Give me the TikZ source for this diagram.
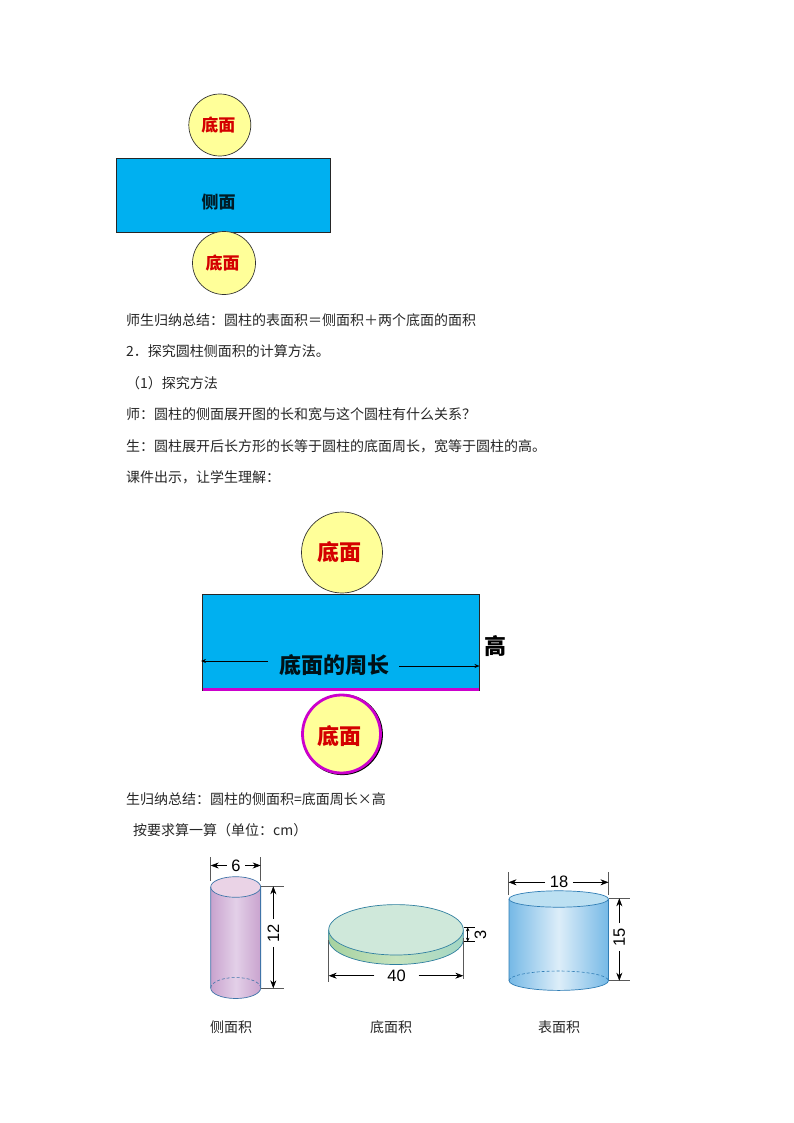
\documentclass[tikz,border=0pt]{standalone}
\usepackage{fontspec}
\usetikzlibrary{arrows.meta}
\setmainfont{Noto Sans CJK SC}
\newfontfamily\latinsans{Liberation Sans}
\definecolor{skyrect}{HTML}{00B0F0}
\definecolor{paleyellow}{HTML}{FFFF99}
\definecolor{redtext}{HTML}{D40000}
\definecolor{magline}{HTML}{CC00CC}
\definecolor{cylline}{HTML}{3F74A8}
\definecolor{cylblue}{HTML}{76B9E6}
\definecolor{cylbluetop}{HTML}{BCE0F2}
\definecolor{cylblueline}{HTML}{2F7DB5}
\definecolor{purpleside}{HTML}{C9A3CE}
\definecolor{purplemid}{HTML}{E3D0E8}
\definecolor{purpletop}{HTML}{EAD3E6}
\definecolor{greenA}{HTML}{A6D2A0}
\definecolor{greenB}{HTML}{C6E3BE}
\definecolor{greenC}{HTML}{A2D6C4}
\definecolor{greentop}{HTML}{CFE8DA}
\definecolor{greenline}{HTML}{2F7F9F}
\tikzset{
  x=1pt,y=-1pt,
  bookline/.style={anchor=west,inner sep=0pt,font=\fontsize{14}{14}\selectfont,text=black!85},
  caption/.style={inner sep=0pt,font=\fontsize{14}{14}\selectfont,text=black!85},
  netrect/.style={draw=black!85,fill=skyrect,line width=0.7pt},
  basedisc/.style={circle,draw=black!80,fill=paleyellow,line width=0.7pt,inner sep=0pt},
  smalltext/.style={font=\fontsize{17}{17}\selectfont\bfseries,inner sep=0pt},
  bigtext/.style={font=\fontsize{22}{22}\selectfont\bfseries,inner sep=0pt},
  dimline/.style={draw=black,line width=0.6pt,-{Stealth[length=8pt,width=6pt]}},
  smallarrow/.style={draw=black,line width=0.6pt,-{Stealth[length=5pt,width=4pt]}},
  extline/.style={draw=black!65,line width=0.6pt},
  dimtext/.style={font=\fontsize{16.5}{17}\latinsans\selectfont,inner sep=4.5pt},
  edge/.style={draw=cylline,line width=0.7pt},
  hidden/.style={draw=cylline,line width=0.6pt,densely dashed},
}
\begin{document}
\begin{tikzpicture}
\useasboundingbox[fill=white] (0,0) rectangle (794,1123);

% first net
\draw[netrect] (116.3,158.3) rectangle (330.3,232.3);
\node[basedisc,minimum size=62pt] (topA) at (219.8,125) {};
\node[basedisc,minimum size=63pt] (botA) at (224,263) {};
\node[smalltext,text=redtext] at (218.3,125) {底面};
\node[smalltext,text=redtext] at (222.5,263) {底面};
\node[smalltext,text=black!85!skyrect] (sideA) at (218.5,202.5) {侧面};

% text lines
\node[bookline] (l1) at (126,320.5) {师生归纳总结：圆柱的表面积＝侧面积＋两个底面的面积};
\node[bookline] (l2) at (126,351.5) {2．探究圆柱侧面积的计算方法。};
\node[bookline] (l3) at (126,383) {（1）探究方法};
\node[bookline] (l4) at (126,414.5) {师：圆柱的侧面展开图的长和宽与这个圆柱有什么关系？};
\node[bookline] (l5) at (126,446) {生：圆柱展开后长方形的长等于圆柱的底面周长，宽等于圆柱的高。};
\node[bookline] (l6) at (126,477) {课件出示，让学生理解：};

% second net
\draw[netrect] (202.7,594.3) rectangle (479.3,690);
\draw[magline,line width=2.4pt] (202.7,689.5) -- (479.3,689.5);
\node[basedisc,minimum size=81pt] (topB) at (342,552.5) {};
\fill[black] (342.4,734.6) circle[radius=40.5];
\node[circle,draw=magline,fill=paleyellow,line width=2.8pt,inner sep=0pt,minimum size=78pt] (botB) at (341.5,734) {};
\node[bigtext,text=redtext] at (339.5,552) {底面};
\node[bigtext,text=redtext] at (339.5,736) {底面};
\node[bigtext,text=black!90!skyrect] (perim) at (334.5,665.5) {底面的周长};
\node[bigtext,text=black] (gao) at (495,646) {高};
\coordinate (pL0) at (268,661);
\coordinate (pL1) at (201,661);
\coordinate (pR0) at (399,666);
\coordinate (pR1) at (479.5,666);
\draw[smallarrow] (pL0) -- (pL1);
\draw[smallarrow] (pR0) -- (pR1);

% more text
\node[bookline] (l7) at (126,799) {生归纳总结：圆柱的侧面积=底面周长×高};
\node[bookline] (l8) at (133,830) {按要求算一算（单位：cm）};

% purple cylinder
\path[left color=purpleside,right color=purpleside,middle color=purplemid]
  (210.7,887) -- (210.7,988) arc[start angle=180,end angle=0,x radius=25,y radius=10.5] -- (260.7,887) arc[start angle=0,end angle=180,x radius=25,y radius=10.5] -- cycle;
\fill[purpletop] (235.7,887) ellipse[x radius=25,y radius=10.3];
\draw[edge] (235.7,887) ellipse[x radius=25,y radius=10.3];
\draw[edge] (210.7,887) -- (210.7,988) arc[start angle=180,end angle=0,x radius=25,y radius=10.5] -- (260.7,887);
\draw[edge] (260.7,887) -- (260.7,988);
\draw[hidden] (210.7,988) arc[start angle=180,end angle=360,x radius=25,y radius=10.5];
\coordinate (a1) at (210.7,857); \coordinate (a1b) at (210.7,881);
\coordinate (a2) at (260.7,857); \coordinate (a2b) at (260.7,881);
\draw[extline] (a1) -- (a1b);
\draw[extline] (a2) -- (a2b);
\node[dimtext] (d6) at (236,865.5) {6};
\draw[dimline] (d6) -- (a1 |- d6);
\draw[dimline] (d6) -- (a2 |- d6);
\coordinate (a3) at (261,886.3); \coordinate (a3b) at (284,886.3);
\coordinate (a4) at (261,988.3); \coordinate (a4b) at (284,988.3);
\draw[extline] (a3) -- (a3b);
\draw[extline] (a4) -- (a4b);
\node[dimtext,rotate=90] (d12) at (273.3,933) {12};
\draw[dimline] (d12) -- (d12 |- a3);
\draw[dimline] (d12) -- (d12 |- a4);
\node[caption] (capA) at (231,1027) {侧面积};

% green disc
\path[left color=greenA,right color=greenC,middle color=greenB]
  (328.7,930) -- (328.7,939.5) arc[start angle=180,end angle=0,x radius=67.3,y radius=25] -- (463.3,930) arc[start angle=0,end angle=180,x radius=67.3,y radius=25] -- cycle;
\draw[edge,draw=greenline] (328.7,930) -- (328.7,939.5) arc[start angle=180,end angle=0,x radius=67.3,y radius=25] -- (463.3,930);
\fill[greentop] (396,929.8) ellipse[x radius=67.3,y radius=25.2];
\draw[edge,draw=greenline] (396,929.8) ellipse[x radius=67.3,y radius=25.2];
\coordinate (g1) at (328.7,940); \coordinate (g1b) at (328.7,982);
\coordinate (g2) at (463.3,938); \coordinate (g2b) at (463.3,979);
\draw[extline] (g1) -- (g1b);
\draw[extline] (g2) -- (g2b);
\node[dimtext,inner sep=0pt,minimum width=44pt] (d40) at (396.5,975.7) {40};
\draw[dimline] (d40) -- (g1b |- d40);
\draw[dimline] (d40) -- (g2b |- d40);
\coordinate (g3) at (463.5,927.3); \coordinate (g3b) at (475,927.3);
\coordinate (g4) at (463.5,941.7); \coordinate (g4b) at (475,941.7);
\draw[extline,black] (g3) -- (g3b);
\draw[extline,black] (g4) -- (g4b);
\coordinate (g5) at (467.7,934.5);
\draw[smallarrow,-{Stealth[length=4pt,width=3.5pt]}] (g5) -- (g5 |- g3);
\draw[smallarrow,-{Stealth[length=4pt,width=3.5pt]}] (g5) -- (g5 |- g4);
\node[dimtext,rotate=90] (d3) at (480.5,935) {3};
\node[caption] (capB) at (391,1027) {底面积};

% blue cylinder
\path[left color=cylblue,right color=cylblue,middle color=cylblue!25!white]
  (509,899) -- (509,980.7) arc[start angle=180,end angle=0,x radius=49.7,y radius=9.7] -- (608.4,899) arc[start angle=0,end angle=180,x radius=49.7,y radius=8.2] -- cycle;
\fill[cylbluetop] (558.7,899) ellipse[x radius=49.7,y radius=8.2];
\draw[edge,draw=cylblueline] (558.7,899) ellipse[x radius=49.7,y radius=8.2];
\draw[edge,draw=cylblueline] (509,899) -- (509,980.7) arc[start angle=180,end angle=0,x radius=49.7,y radius=9.7] -- (608.4,980.7) -- (608.4,899);
\draw[hidden,draw=cylblueline] (509,980.7) arc[start angle=180,end angle=360,x radius=49.7,y radius=9.7];
\coordinate (b1) at (508.5,872); \coordinate (b1b) at (508.5,895);
\coordinate (b2) at (608.5,872); \coordinate (b2b) at (608.5,895);
\draw[extline] (b1) -- (b1b);
\draw[extline] (b2) -- (b2b);
\node[dimtext] (d18) at (559,882.3) {18};
\draw[dimline] (d18) -- (b1 |- d18);
\draw[dimline] (d18) -- (b2 |- d18);
\coordinate (b3) at (608.5,898.3); \coordinate (b3b) at (630,898.3);
\coordinate (b4) at (608.5,980.7); \coordinate (b4b) at (630,980.7);
\draw[extline] (b3) -- (b3b);
\draw[extline] (b4) -- (b4b);
\node[dimtext,rotate=90] (d15) at (619.3,937) {15};
\draw[dimline] (d15) -- (d15 |- b3);
\draw[dimline] (d15) -- (d15 |- b4);
\node[caption] (capC) at (559,1027) {表面积};
\end{tikzpicture}
\end{document}
